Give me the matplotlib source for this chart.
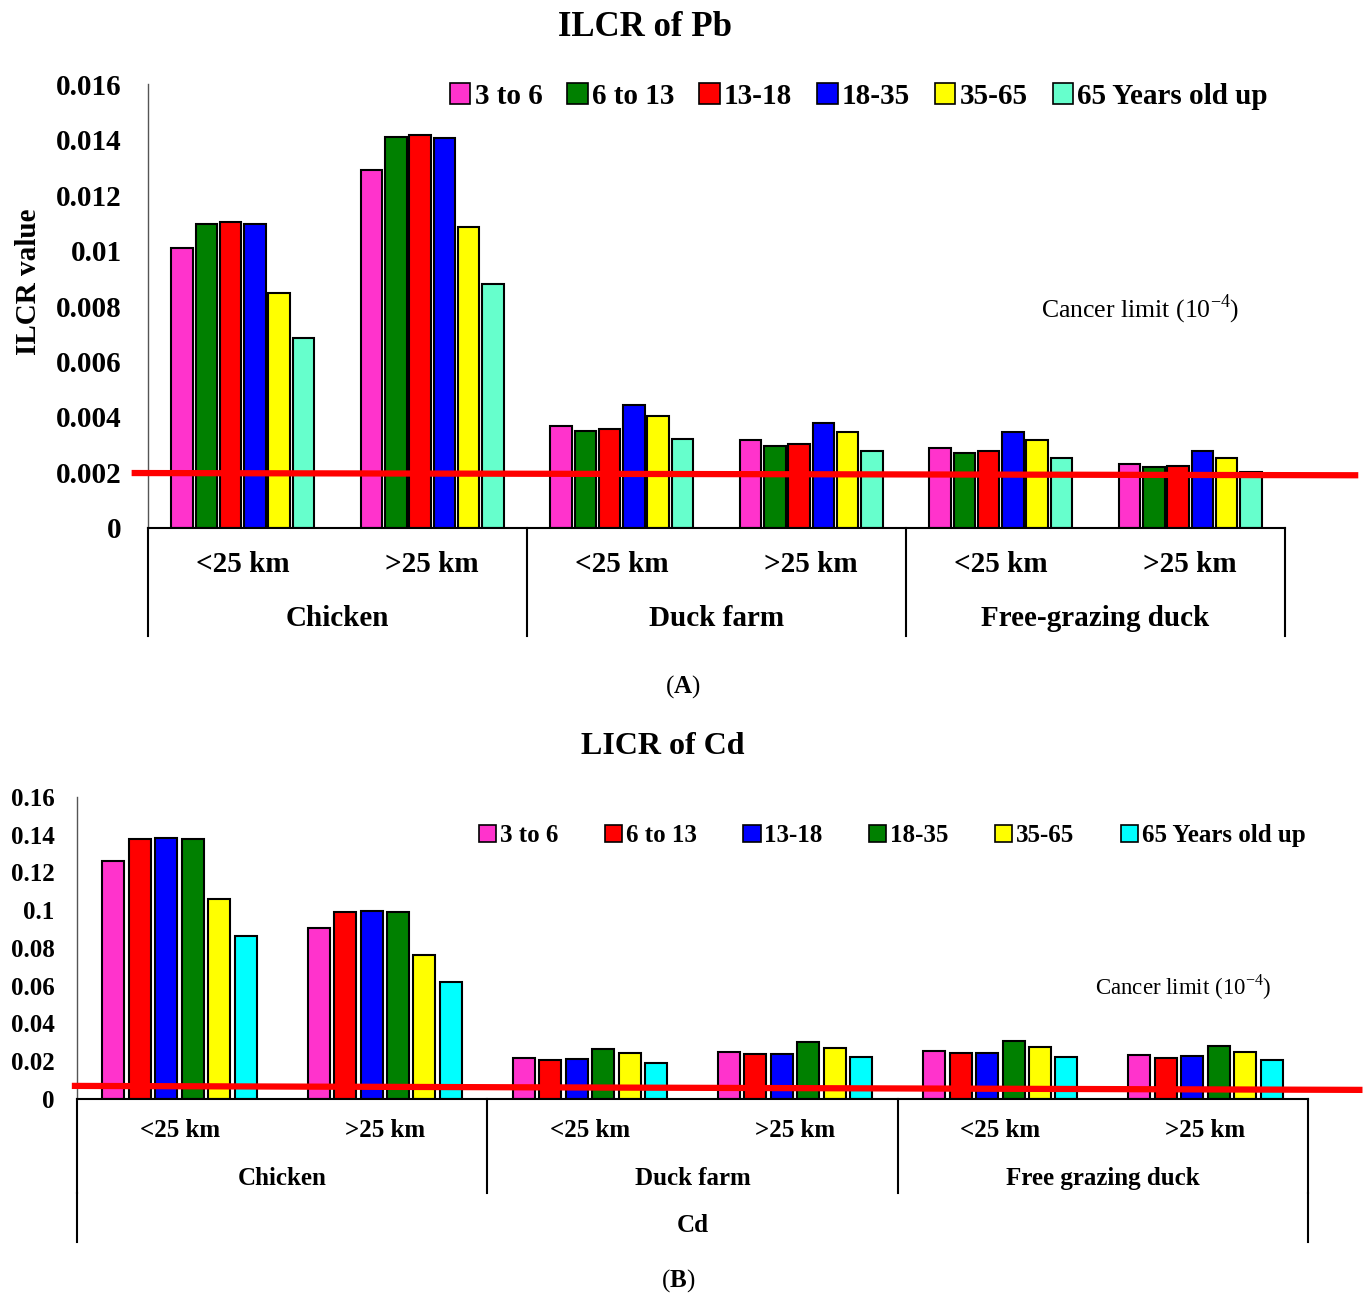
import numpy as np
import matplotlib
matplotlib.use('Agg')
from matplotlib import pyplot as plt
from matplotlib.ticker import FuncFormatter, MultipleLocator

plt.rcParams['font.family'] = ['Liberation Serif', 'DejaVu Serif']
plt.rcParams['mathtext.fontset'] = 'custom'
plt.rcParams['mathtext.rm'] = 'Liberation Serif'
plt.rcParams['mathtext.bf'] = 'Liberation Serif:bold'

# categories
sites = ['<25 km', '>25 km', '<25 km', '>25 km', '<25 km', '>25 km']
groups_pb = ['Chicken', 'Duck farm', 'Free-grazing duck']
groups_cd = ['Chicken', 'Duck farm', 'Free grazing duck']
ages_pb = ['3 to 6', '6 to 13', '13-18', '18-35', '35-65', '65 Years old up']
ages_cd = ['3 to 6', '6 to 13', '13-18', '18-35', '35-65', '65 Years old up']

# ILCR of Pb (one list per age group, in the order of sites)
pb_3_6 = [0.0101, 0.0129, 0.00369, 0.00317, 0.00287, 0.00232]
pb_6_13 = [0.01096, 0.01409, 0.00351, 0.00296, 0.00271, 0.00219]
pb_13_18 = [0.01103, 0.01416, 0.00356, 0.00302, 0.00278, 0.00223]
pb_18_35 = [0.01096, 0.01405, 0.00443, 0.0038, 0.00347, 0.00278]
pb_35_65 = [0.00847, 0.01085, 0.00404, 0.00345, 0.00317, 0.00252]
pb_65_up = [0.00685, 0.00879, 0.00321, 0.00278, 0.00251, 0.00203]

# LICR of Cd
cd_3_6 = [0.1263, 0.0908, 0.0219, 0.0249, 0.0256, 0.0231]
cd_6_13 = [0.1378, 0.0989, 0.0207, 0.0238, 0.0245, 0.0219]
cd_13_18 = [0.1385, 0.0996, 0.0214, 0.0238, 0.0245, 0.0226]
cd_18_35 = [0.1378, 0.0989, 0.0263, 0.0300, 0.0307, 0.0283]
cd_35_65 = [0.1060, 0.0763, 0.0242, 0.0270, 0.0276, 0.0251]
cd_65_up = [0.0864, 0.0620, 0.0192, 0.0221, 0.0224, 0.0205]

# cancer limit line (left end, right end)
limit_pb = [0.00198, 0.0019]
limit_cd = [0.0069, 0.0048]

colors_pb = ['#FF33CC', '#008000', '#FF0000', '#0000FF', '#FFFF00', '#66FFCC']
colors_cd = ['#FF33CC', '#FF0000', '#0000FF', '#008000', '#FFFF00', '#00FFFF']


def draw_panel(ax, series, ages, colors, groups, limit, limit_x, ymax, ystep,
               slot, width, fs, leg_anchor, colspace, note_xy, note_fs,
               sub_y, grp_y, box_y, extra=None):
    x = np.arange(len(sites))
    for i, vals in enumerate(series):
        ax.bar(x + (i - 2.5) * slot, vals, width, color=colors[i],
               edgecolor='black', linewidth=1.5, label=ages[i], zorder=2)
    ax.plot(limit_x, limit, color='#FF0000', lw=4.5, clip_on=False, zorder=3)

    ax.set_xlim(-0.5, len(sites) - 0.5)
    ax.set_ylim(0, ymax)
    ax.yaxis.set_major_locator(MultipleLocator(ystep))
    ax.yaxis.set_major_formatter(FuncFormatter(lambda v, p: '{:g}'.format(round(v, 4))))
    ax.set_xticks([])
    ax.tick_params(axis='y', length=0, pad=fs * 0.9, labelsize=fs)
    for lab in ax.get_yticklabels():
        lab.set_fontweight('bold')
    for s in ['top', 'right']:
        ax.spines[s].set_visible(False)
    ax.spines['left'].set_color('#555555')
    ax.spines['left'].set_linewidth(1.0)
    ax.spines['bottom'].set_color('black')
    ax.spines['bottom'].set_linewidth(1.5)

    # category box under the axis
    tr = ax.get_xaxis_transform()
    for xs in [-0.5, 1.5, 3.5, 5.5]:
        ax.plot([xs, xs], [0, box_y], color='black', lw=1.5, transform=tr, clip_on=False)
    for i, s in enumerate(sites):
        ax.text(i, sub_y, s, transform=tr, ha='center', va='center',
                fontsize=fs, fontweight='bold')
    for g, name in enumerate(groups):
        ax.text(2 * g + 0.5, grp_y, name, transform=tr, ha='center', va='center',
                fontsize=fs, fontweight='bold')
    if extra is not None:
        name, yy, yline = extra
        for xs in [-0.5, 5.5]:
            ax.plot([xs, xs], [box_y, yline], color='black', lw=1.5, transform=tr, clip_on=False)
        ax.text(2.5, yy, name, transform=tr, ha='center', va='center',
                fontsize=fs, fontweight='bold')

    ax.text(note_xy[0], note_xy[1], r'Cancer limit (10$^{\mathregular{-4}}$)',
            ha='center', va='center', fontsize=note_fs)

    leg = ax.legend(loc='center right', bbox_to_anchor=leg_anchor, ncol=6, frameon=False,
                    handlelength=0.7, handleheight=0.7, handletextpad=0.15,
                    columnspacing=colspace, borderaxespad=0, borderpad=0,
                    prop={'weight': 'bold', 'size': fs})
    for h in leg.legend_handles:
        h.set_linewidth(1.2)


fig = plt.figure(figsize=(13.63, 12.95), dpi=100)

ax1 = fig.add_axes([0.1086, 0.5923, 0.8342, 0.3428])
draw_panel(ax1, [pb_3_6, pb_6_13, pb_13_18, pb_18_35, pb_35_65, pb_65_up],
           ages_pb, colors_pb, groups_pb, limit_pb, [-0.57, 5.87], 0.016, 0.002,
           0.128, 0.113, 21, (0.985, 0.973), 0.85, (4.735, 0.00789), 18.5,
           -0.082, -0.205, -0.243)
ax1.set_ylabel('ILCR value', fontsize=21, fontweight='bold')
ax1.yaxis.set_label_coords(-0.093, 0.555)

ax2 = fig.add_axes([0.0565, 0.1514, 0.9032, 0.2332])
draw_panel(ax2, [cd_3_6, cd_6_13, cd_13_18, cd_18_35, cd_35_65, cd_65_up],
           ages_cd, colors_cd, groups_cd, limit_cd, [-0.51, 5.75], 0.16, 0.02,
           0.129, 0.107, 18, (0.998, 0.871), 1.85, (4.89, 0.0593), 16.5,
           -0.103, -0.262, -0.311, extra=('Cd', -0.42, -0.4735))

fig.text(645 / 1363, 1 - 27 / 1295, 'ILCR of Pb', ha='center', va='center',
         fontsize=25, fontweight='bold')
fig.text(663 / 1363, 1 - 746 / 1295, 'LICR of Cd', ha='center', va='center',
         fontsize=23, fontweight='bold')
fig.text(683 / 1363, 1 - 687 / 1295, r'($\mathbf{A}$)', ha='center', va='center', fontsize=18)
fig.text(678 / 1363, 1 - 1281 / 1295, r'($\mathbf{B}$)', ha='center', va='center', fontsize=18)

fig.savefig('out.png', dpi=100)
